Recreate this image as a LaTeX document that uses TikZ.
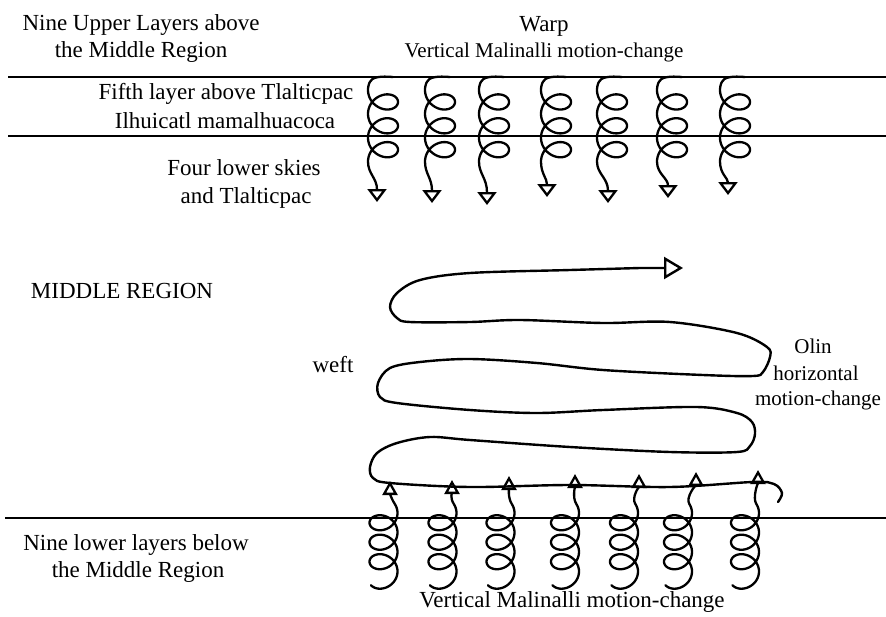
\documentclass[tikz,border=0pt]{standalone}
\usepackage{fontspec}
\setmainfont{Liberation Serif}
\usetikzlibrary{arrows.meta}
\begin{document}
\begin{tikzpicture}[x=1pt,y=-1pt,
  lbl/.style={anchor=base, inner sep=0pt, font=\fontsize{23}{26}\selectfont},
  smalllbl/.style={lbl, font=\fontsize{21}{24}\selectfont},
  layerline/.style={line width=1.6pt},
  coil/.style={line width=2.3pt, line cap=round, line join=round},
  weftline/.style={line width=2.4pt, line cap=round, line join=round},
  downtip/.style={-{Triangle[open, length=13pt, width=19pt]}},
  uptip/.style={{Triangle[open, length=14pt, width=15pt]}-},
  pics/topcoil/.style n args={2}{code={
    \draw[coil, downtip] (10,77) .. controls (-2,76) and (-11.5,76.8) ..
      ({15*cos(153)},{90-3.8*0.15*pi-13*sin(153)})
      -- plot[domain=0.85*pi:7*pi, samples=160, variable=\t, smooth]
      ({15*cos(\t r)},{90+3.8*(\t-pi)-13*sin(\t r)})
      .. controls (-15,174) and (#1,178) .. (#1,#2);
  }},
  pics/botcoil/.style n args={2}{code={
    \draw[coil, uptip] (#1,#2) .. controls (#1,{#2+12}) and (7.2,497.6) ..
      ({-14*cos(144)},{513-3.1*0.2*pi-12*sin(144)})
      -- plot[domain=0.8*pi:7.85*pi, samples=160, variable=\t, smooth]
      ({-14*cos(\t r)},{513+3.1*(\t-pi)-12*sin(\t r)});
  }}
]
\useasboundingbox (0,0) rectangle (886,616);

% layer lines
\coordinate (l1a) at (8,77);   \coordinate (l1b) at (886,77);
\coordinate (l2a) at (8,136);  \coordinate (l2b) at (886,136);
\coordinate (l3a) at (5,518);  \coordinate (l3b) at (886,518);
\draw[layerline] (l1a) -- (l1b);
\draw[layerline] (l2a) -- (l2b);
\draw[layerline] (l3a) -- (l3b);

% labels
\node[lbl] (nineup1) at (141,30) {Nine Upper Layers above};
\node[lbl] (nineup2) at (141,57) {the Middle Region};
\node[lbl] (warp) at (544,31) {Warp};
\node[smalllbl] (vmtop) at (544,57) {Vertical Malinalli motion-change};
\node[lbl] (fifth) at (226,99) {Fifth layer above Tlalticpac};
\node[lbl] (ilhu) at (225,128) {Ilhuicatl mamalhuacoca};
\node[lbl] (four) at (244,175) {Four lower skies};
\node[lbl] (andt) at (246,203) {and Tlalticpac};
\node[lbl] (mid) at (122,298) {MIDDLE REGION};
\node[lbl] (weft) at (333,372) {weft};
\node[smalllbl] (olin) at (813,353) {Olin};
\node[smalllbl] (horiz) at (816,380) {horizontal};
\node[smalllbl] (motion) at (818,405) {motion-change};
\node[lbl] (ninelow1) at (136,550) {Nine lower layers below};
\node[lbl] (ninelow2) at (138,577) {the Middle Region};
\node[lbl] (vmbot) at (572,607) {Vertical Malinalli motion-change};

% warp coils, top
\pic (tc1) at (383,0) {topcoil={-6}{202}};
\pic (tc2) at (440,0) {topcoil={-8}{203}};
\pic (tc3) at (494,0) {topcoil={-7}{205}};
\pic (tc4) at (556,0) {topcoil={-9}{197}};
\pic (tc5) at (612,0) {topcoil={-4}{203}};
\pic (tc6) at (672,0) {topcoil={-4}{198}};
\pic (tc7) at (735,0) {topcoil={-7}{195}};

% weft
\coordinate (weftend) at (683,268);
\draw[weftline, -{Triangle[open, length=19pt, width=22pt]}]
  plot[smooth, tension=0.55] coordinates {
   (778,502) (782,493) (774,484) (753,482) (670,487) (570,485) (470,487)
   (390,483) (373,478) (370,467) (377,453) (397,443) (430,437) (470,440)
   (570,447) (670,452) (737,452) (750,446) (755,434) (752,422) (737,413)
   (697,407) (603,410) (537,413) (470,410) (397,403) (380,397) (378,383)
   (390,368) (420,362) (470,359) (537,363) (603,370) (703,375) (753,376)
   (763,372) (770,357) (767,347) (737,333) (670,322) (603,323) (520,320)
   (470,322) (410,322) (397,318) (390,307) (397,293) (420,280) (470,273)
   (570,270) (640,268)} -- (weftend);

% warp coils, bottom
\pic (bc1) at (383.5,0) {botcoil={6.5}{481}};
\pic (bc2) at (442.5,0) {botcoil={9.5}{480}};
\pic (bc3) at (500.5,0) {botcoil={8.5}{476}};
\pic (bc4) at (565,0) {botcoil={10}{474}};
\pic (bc5) at (624,0) {botcoil={15}{474}};
\pic (bc6) at (678,0) {botcoil={18}{472}};
\pic (bc7) at (745,0) {botcoil={13}{470}};
\end{tikzpicture}
\end{document}
